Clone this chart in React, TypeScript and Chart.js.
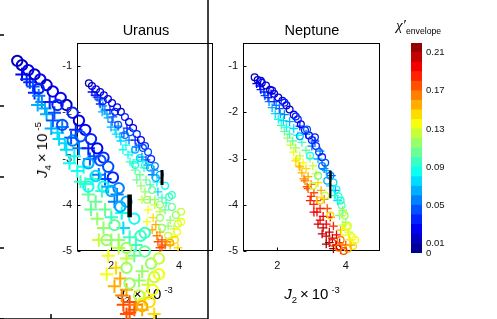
import React, { useEffect, useRef } from "react";
import { Chart, registerables } from "chart.js";
Chart.register(...registerables);

// ---- data: [J2 (1e-3), J4 (1e-5), chi'envelope] ----
const uranusCircles: number[][] = [
  [1.35, -1.37, 0.01], [1.44, -1.43, 0.01], [1.56, -1.5, 0.02], [1.68, -1.56, 0.01],
  [1.79, -1.63, 0.02], [1.91, -1.71, 0.01], [2.03, -1.8, 0.02], [2.18, -1.89, 0.02],
  [2.29, -1.99, 0.01], [2.41, -2.1, 0.03], [2.53, -2.21, 0.02], [2.65, -2.34, 0.02],
  [2.76, -2.47, 0.03], [2.88, -2.6, 0.02], [3.0, -2.73, 0.03], [3.09, -2.86, 0.04],
  [3.18, -3.01, 0.03], [3.29, -3.16, 0.05], [3.44, -3.35, 0.06], [3.59, -3.59, 0.08],
  [3.71, -3.83, 0.09], [3.79, -4.05, 0.1], [3.91, -4.22, 0.11], [3.97, -4.41, 0.12],
  [3.94, -4.59, 0.13], [3.88, -4.76, 0.14], [3.68, -4.67, 0.12], [3.5, -4.5, 0.11],
  [2.41, -2.49, 0.05], [2.71, -2.81, 0.06], [3.0, -3.14, 0.08], [3.21, -3.68, 0.1],
  [3.44, -4.0, 0.11], [2.21, -2.27, 0.04], [2.85, -2.99, 0.07],
  [1.76, -1.76, 0.03], [2.12, -1.99, 0.03], [2.56, -2.43, 0.04], [2.94, -2.77, 0.04],
  [3.15, -3.2, 0.06], [3.32, -3.42, 0.06], [3.79, -3.79, 0.09], [4.06, -4.15, 0.12],
  [4.06, -4.37, 0.13], [3.74, -4.82, 0.15], [3.44, -4.28, 0.11], [3.06, -3.89, 0.11],
  [2.71, -3.14, 0.08],
];
const uranusPluses: number[][] = [
  [1.44, -1.56, 0.02], [1.59, -1.67, 0.03], [1.68, -1.82, 0.03], [1.82, -1.95, 0.05],
  [1.74, -1.99, 0.06], [1.91, -2.12, 0.06], [2.03, -2.21, 0.04], [2.12, -2.38, 0.07],
  [2.21, -2.3, 0.05], [2.26, -2.53, 0.07], [2.38, -2.45, 0.04], [2.44, -2.71, 0.08],
  [2.53, -2.6, 0.05], [2.62, -2.86, 0.08], [2.74, -2.75, 0.04], [2.79, -3.03, 0.09],
  [2.91, -2.97, 0.05], [2.97, -3.2, 0.09], [3.09, -3.14, 0.06], [2.85, -3.35, 0.1],
  [3.03, -3.46, 0.1], [3.21, -3.35, 0.05], [3.0, -3.72, 0.11], [3.15, -3.89, 0.11],
  [3.38, -3.72, 0.07], [3.09, -4.11, 0.13], [3.24, -4.28, 0.14], [3.32, -4.43, 0.15],
  [3.44, -4.59, 0.15], [3.5, -4.76, 0.17], [3.59, -4.87, 0.17], [3.74, -4.87, 0.15],
  [3.59, -4.11, 0.1], [3.74, -4.33, 0.11], [3.79, -4.71, 0.13], [3.44, -4.15, 0.12],
  [2.71, -3.25, 0.1], [2.56, -3.07, 0.09], [3.29, -4.0, 0.12], [3.38, -4.8, 0.17],
  [3.5, -4.91, 0.17], [3.97, -4.93, 0.14],
  [1.53, -1.63, 0.03], [1.65, -1.73, 0.04], [1.76, -1.86, 0.05], [1.88, -2.04, 0.06],
  [1.97, -1.95, 0.03], [2.06, -2.1, 0.04], [2.0, -2.32, 0.06], [2.15, -2.47, 0.07],
  [2.29, -2.62, 0.07], [2.35, -2.81, 0.08], [2.5, -2.92, 0.08], [2.65, -3.1, 0.09],
  [2.76, -3.46, 0.1], [2.88, -3.59, 0.11], [2.91, -3.89, 0.12], [3.06, -4.37, 0.13],
  [3.21, -4.54, 0.15], [3.35, -4.67, 0.16], [3.62, -4.8, 0.16], [3.44, -4.93, 0.17],
  [3.29, -3.89, 0.11], [3.5, -3.85, 0.09], [3.62, -3.96, 0.09], [3.68, -4.46, 0.11],
  [3.85, -4.52, 0.12], [3.35, -3.51, 0.08], [3.15, -3.57, 0.09], [2.82, -2.71, 0.04],
  [2.71, -2.6, 0.03], [2.47, -2.34, 0.03], [3.03, -3.03, 0.04], [3.26, -3.25, 0.05],
];
const neptuneCircles: number[][] = [
  [1.34, -1.24, 0.01], [1.43, -1.3, 0.01], [1.55, -1.36, 0.02], [1.67, -1.42, 0.01],
  [1.79, -1.51, 0.01], [1.91, -1.6, 0.02], [2.03, -1.68, 0.01], [2.15, -1.75, 0.02],
  [2.27, -1.85, 0.02], [2.36, -1.94, 0.01], [2.48, -2.05, 0.02], [2.6, -2.15, 0.03],
  [2.69, -2.26, 0.02], [2.81, -2.39, 0.03], [2.93, -2.5, 0.02], [3.01, -2.6, 0.03],
  [3.13, -2.73, 0.03], [3.22, -2.86, 0.04], [3.31, -2.97, 0.03], [3.4, -3.09, 0.04],
  [3.55, -3.37, 0.05], [3.64, -3.52, 0.07], [3.73, -3.67, 0.08], [3.79, -3.82, 0.09],
  [3.88, -4.01, 0.1], [3.97, -4.23, 0.11], [4.06, -4.46, 0.12], [4.18, -4.7, 0.13],
  [4.21, -4.89, 0.14], [4.06, -4.95, 0.15], [3.94, -5.0, 0.17], [3.79, -4.93, 0.16],
  [3.61, -4.82, 0.18], [2.66, -2.52, 0.06], [2.96, -2.94, 0.08], [3.19, -3.37, 0.1],
  [3.4, -3.8, 0.12], [3.55, -4.23, 0.14], [3.91, -4.18, 0.12], [4.03, -4.48, 0.13],
  [1.52, -1.32, 0.02], [1.85, -1.53, 0.02], [2.21, -1.79, 0.03], [2.54, -2.09, 0.03],
  [2.87, -2.37, 0.04], [3.1, -2.54, 0.03], [3.31, -3.16, 0.05], [3.46, -3.48, 0.06],
  [3.85, -3.91, 0.08], [3.97, -4.59, 0.13], [4.27, -4.76, 0.13], [3.85, -4.76, 0.16],
  [3.25, -3.91, 0.14], [3.04, -3.59, 0.12],
];
const neptunePluses: number[][] = [
  [1.4, -1.38, 0.02], [1.52, -1.51, 0.03], [1.64, -1.64, 0.04], [1.76, -1.77, 0.05],
  [1.85, -1.9, 0.06], [1.94, -2.03, 0.07], [2.03, -2.15, 0.08], [2.12, -2.28, 0.09],
  [2.21, -2.41, 0.1], [2.3, -2.56, 0.11], [2.39, -2.71, 0.12], [2.48, -2.86, 0.13],
  [2.57, -3.01, 0.13], [2.63, -3.16, 0.14], [2.72, -3.31, 0.15], [2.81, -3.48, 0.16],
  [2.9, -3.65, 0.17], [2.99, -3.82, 0.18], [3.07, -3.99, 0.18], [3.16, -4.16, 0.19],
  [3.25, -4.33, 0.19], [3.34, -4.5, 0.2], [3.43, -4.68, 0.2], [3.52, -4.82, 0.21],
  [3.64, -4.95, 0.21], [1.91, -1.77, 0.03], [2.06, -1.92, 0.04], [2.21, -2.05, 0.05],
  [2.36, -2.2, 0.06], [2.48, -2.35, 0.07], [2.6, -2.5, 0.08], [2.72, -2.65, 0.09],
  [2.84, -2.82, 0.1], [2.96, -2.99, 0.11], [3.04, -3.16, 0.12], [3.13, -3.33, 0.13],
  [3.19, -3.52, 0.14], [3.28, -3.69, 0.15], [3.37, -3.88, 0.16], [3.46, -4.08, 0.17],
  [3.55, -4.27, 0.18], [3.64, -4.46, 0.18], [3.73, -4.65, 0.19], [3.82, -4.82, 0.19],
  [2.66, -2.3, 0.03], [2.84, -2.47, 0.04], [3.01, -2.73, 0.05], [3.19, -3.01, 0.06],
  [3.37, -3.22, 0.05], [3.58, -3.37, 0.04], [3.7, -3.69, 0.06], [3.76, -3.91, 0.07],
  [3.91, -4.12, 0.09], [4.0, -4.38, 0.11], [4.09, -4.59, 0.12], [3.85, -4.55, 0.15],
  [1.49, -1.43, 0.02], [1.61, -1.56, 0.03], [1.73, -1.68, 0.03], [1.82, -1.6, 0.02],
  [1.97, -1.85, 0.05], [2.09, -2.03, 0.06], [2.18, -2.18, 0.07], [2.27, -2.32, 0.08],
  [2.36, -2.47, 0.09], [2.45, -2.62, 0.1], [2.54, -2.77, 0.11], [2.66, -2.94, 0.12],
  [2.75, -3.09, 0.13], [2.84, -3.22, 0.14], [2.9, -3.39, 0.15], [2.99, -3.56, 0.16],
  [3.07, -3.74, 0.17], [3.16, -3.91, 0.17], [3.25, -4.08, 0.18], [3.34, -4.25, 0.19],
  [3.43, -4.42, 0.19], [3.52, -4.59, 0.2], [3.61, -4.72, 0.2], [3.73, -4.87, 0.2],
  [3.85, -4.97, 0.19], [4.0, -4.87, 0.17], [4.12, -4.76, 0.14], [2.66, -3.18, 0.15],
  [2.54, -3.05, 0.14], [2.78, -3.44, 0.16], [2.87, -3.61, 0.17], [2.96, -3.91, 0.18],
  [3.07, -4.16, 0.19], [3.19, -4.42, 0.2], [3.31, -4.63, 0.2], [3.43, -4.85, 0.21],
  [3.1, -2.62, 0.04], [3.25, -2.84, 0.05], [3.43, -3.26, 0.06], [3.55, -3.59, 0.07],
  [3.67, -3.8, 0.08], [3.82, -4.23, 0.1], [3.91, -4.44, 0.12], [4.15, -4.87, 0.15],
];
// observed value bars: [J2, J4 low end, J4 high end]
const uranusBar = [3.5, -3.25, -3.57];
const neptuneBar = [3.55, -3.26, -3.86];

const j2Range = [1, 5];
const j4Range = [-5, -0.5];
const j2Ticks = [2, 4];
const j4Ticks = [-5, -4, -3, -2, -1];
const chiRange = [0, 0.22];
const chiTicks = [0, 0.01, 0.05, 0.09, 0.13, 0.17, 0.21];
const chiBandLows = [0, 0.01, 0.02, 0.03, 0.04, 0.05, 0.06, 0.07, 0.08, 0.09, 0.1,
  0.11, 0.12, 0.13, 0.14, 0.15, 0.16, 0.17, 0.18, 0.19, 0.2, 0.21];

const SANS = "'Liberation Sans', Arial, Helvetica, sans-serif";

function jet(t: number) {
  const c = (v: number) => Math.max(0, Math.min(1, v));
  const r = c(1.5 - Math.abs(4 * t - 3));
  const g = c(1.5 - Math.abs(4 * t - 2));
  const b = c(1.5 - Math.abs(4 * t - 1));
  return `rgb(${Math.round(r * 255)},${Math.round(g * 255)},${Math.round(b * 255)})`;
}
const NB = chiBandLows.length;
function chiColor(chi: number) {
  const i = Math.min(NB - 1, Math.max(0, Math.floor((chi - chiRange[0]) / (chiRange[1] - chiRange[0]) * NB + 1e-6)));
  return jet((i + 0.5) / NB);
}

const framePlugin = {
  id: "frame",
  beforeDatasetsDraw(chart: any, _a: any, opts: any) {
    const { ctx, chartArea: a } = chart;
    const lw = opts.lineWidth ?? 1;
    const off = lw % 2 === 1 ? 0.5 : 0;
    const L = Math.round(a.left) + off, R = Math.round(a.right) - off;
    const T = Math.round(a.top) + off, B = Math.round(a.bottom) - off;
    ctx.save();
    ctx.strokeStyle = opts.color ?? "#000";
    ctx.lineWidth = lw;
    ctx.strokeRect(L, T, R - L, B - T);
    const len = opts.tickLen ?? 0;
    if (len > 0 && chart.scales.x && chart.scales.y) {
      ctx.beginPath();
      const xs = chart.scales.x, ys = chart.scales.y;
      xs.ticks.forEach((t: any) => {
        const px = Math.round(xs.getPixelForValue(t.value)) + off;
        ctx.moveTo(px, B); ctx.lineTo(px, B - len);
      });
      ys.ticks.forEach((t: any) => {
        const py = Math.round(ys.getPixelForValue(t.value)) + off;
        ctx.moveTo(L, py); ctx.lineTo(L + len, py);
      });
      ctx.stroke();
    }
    ctx.restore();
  },
};

const toPts = (list: number[][]) => list.map(([x, y, c]) => ({ x, y, c }));
const colorOf = (ctx: any) => chiColor(ctx.raw && ctx.raw.c !== undefined ? ctx.raw.c : 0);

function scatterConfig(p: any): any {
  return {
    type: "scatter",
    data: {
      datasets: [
        {
          type: "line",
          data: [{ x: p.bar[0], y: p.bar[1] }, { x: p.bar[0], y: p.bar[2] }],
          borderColor: "#000", borderWidth: p.barW, pointRadius: 0, showLine: true,
          borderCapStyle: "butt", clip: false,
        },
        {
          data: toPts(p.circles), pointStyle: "circle", pointRadius: p.circleR,
          pointBorderWidth: p.bw, pointBorderColor: colorOf,
          pointBackgroundColor: "rgba(0,0,0,0)", clip: false,
        },
        {
          data: toPts(p.pluses), pointStyle: "cross", pointRadius: p.crossR,
          pointBorderWidth: p.bw, pointBorderColor: colorOf,
          pointBackgroundColor: "rgba(0,0,0,0)", clip: false,
        },
      ],
    },
    options: {
      animation: false, responsive: false, events: [],
      layout: { padding: p.padding },
      plugins: {
        legend: { display: false }, tooltip: { enabled: false }, title: { display: false },
        frame: { lineWidth: p.frameW, tickLen: p.tickLen, color: "#000" },
      },
      scales: {
        x: {
          type: "linear", min: j2Range[0], max: j2Range[1],
          afterBuildTicks: (s: any) => { s.ticks = j2Ticks.map((v) => ({ value: v })); },
          afterFit: (s: any) => { s.height = p.xHeight; },
          grid: { display: false, drawTicks: false }, border: { display: false },
          ticks: { font: { family: SANS, size: p.font }, color: "#111", padding: p.xPad, maxRotation: 0, callback: (v: any) => String(v) },
        },
        y: {
          type: "linear", min: j4Range[0], max: j4Range[1],
          afterBuildTicks: (s: any) => { s.ticks = j4Ticks.map((v) => ({ value: v })); },
          afterFit: (s: any) => { s.width = p.yWidth; },
          grid: { display: false, drawTicks: false }, border: { display: false },
          ticks: { font: { family: SANS, size: p.font }, color: "#111", padding: p.yPad, callback: (v: any) => String(v) },
        },
      },
    },
    plugins: [framePlugin],
  };
}

function colorbarConfig(): any {
  return {
    type: "bar",
    data: {
      labels: ["chi"],
      datasets: chiBandLows.map((lo, i) => ({
        data: [[lo, i + 1 < NB ? chiBandLows[i + 1] : chiRange[1]]],
        backgroundColor: jet((i + 0.5) / NB),
        borderWidth: 0, barPercentage: 1, categoryPercentage: 1, grouped: false,
      })),
    },
    options: {
      animation: false, responsive: false, events: [],
      layout: { padding: { left: 16, top: 43, right: 0, bottom: 66 } },
      plugins: {
        legend: { display: false }, tooltip: { enabled: false },
        frame: { lineWidth: 1, tickLen: 0, color: "#333" },
      },
      scales: {
        x: { display: false },
        y: {
          position: "right", min: chiRange[0], max: chiRange[1],
          afterBuildTicks: (s: any) => { s.ticks = chiTicks.map((v) => ({ value: v })); },
          afterFit: (s: any) => { s.width = 75; },
          grid: { display: false, drawTicks: false }, border: { display: false },
          ticks: { font: { family: SANS, size: 9.5 }, color: "#111", padding: 4, callback: (v: any) => String(v) },
        },
      },
    },
    plugins: [framePlugin],
  };
}

function JLabel({ sub, exp }: { sub: string; exp: string }) {
  return (
    <span style={{ fontFamily: SANS, fontSize: 15, lineHeight: "15px", color: "#000", whiteSpace: "nowrap" }}>
      <i>J</i>
      <span style={{ fontSize: 9.5, position: "relative", top: 4 }}>{sub}</span>
      <span>{"\u2009\u00d7\u200910"}</span>
      <span style={{ fontSize: 9.5, position: "relative", top: -6, marginLeft: 3 }}>{exp}</span>
    </span>
  );
}

export default function App() {
  const uRef = useRef<HTMLCanvasElement>(null);
  const bRef = useRef<HTMLCanvasElement>(null);
  const nRef = useRef<HTMLCanvasElement>(null);
  const cRef = useRef<HTMLCanvasElement>(null);

  useEffect(() => {
    const charts: Chart[] = [];
    const small = {
      circleR: 3.4, crossR: 4.3, bw: 1.3, barW: 3, frameW: 1, tickLen: 3, font: 11,
      xHeight: 30, xPad: 8, yPad: 5,
    };
    charts.push(new Chart(uRef.current!, scatterConfig({
      ...small, circles: uranusCircles, pluses: uranusPluses, bar: uranusBar,
      yWidth: 77, padding: { left: 0, top: 43, right: 17, bottom: 38 },
    })));
    charts.push(new Chart(bRef.current!, scatterConfig({
      circleR: 5.2, crossR: 6.6, bw: 2, barW: 4.5, frameW: 1.5, tickLen: 5, font: 17,
      xHeight: 29, xPad: 10, yPad: 8,
      circles: uranusCircles, pluses: uranusPluses, bar: uranusBar,
      yWidth: 60, padding: { left: 0, top: 39, right: 20, bottom: 0 },
    })));
    charts.push(new Chart(nRef.current!, scatterConfig({
      ...small, circles: neptuneCircles, pluses: neptunePluses, bar: neptuneBar, barW: 2.2,
      yWidth: 28, padding: { left: 0, top: 43, right: 15, bottom: 38 },
    })));
    charts.push(new Chart(cRef.current!, colorbarConfig()));
    return () => charts.forEach((c) => c.destroy());
  }, []);

  const abs: React.CSSProperties = { position: "absolute" };
  const title: React.CSSProperties = { ...abs, top: 23, transform: "translateX(-50%)", fontFamily: SANS, fontSize: 14.5, lineHeight: "14.5px", whiteSpace: "nowrap", color: "#000" };
  return (
    <div style={{ position: "absolute", left: 0, top: 0, width: 497, height: 319, overflow: "hidden", background: "#fff" }}>
      <canvas ref={uRef} width={230} height={319} style={{ ...abs, left: 0, top: 0, width: 230, height: 319 }} />
      <div style={{ ...title, left: 146 }}>Uranus</div>
      <div style={{ ...abs, left: 145, top: 285, transform: "translateX(-50%)" }}><JLabel sub="2" exp="-3" /></div>
      <canvas ref={bRef} width={289} height={388} style={{ ...abs, left: -61, top: -40, width: 289, height: 388 }} />
      <div style={{ ...abs, left: 42, top: 150, transform: "translate(-50%,-50%) rotate(-90deg)" }}><JLabel sub="4" exp="-5" /></div>
      <canvas ref={nRef} width={180} height={319} style={{ ...abs, left: 215, top: 0, width: 180, height: 319 }} />
      <div style={{ ...title, left: 312 }}>Neptune</div>
      <div style={{ ...abs, left: 312, top: 285, transform: "translateX(-50%)" }}><JLabel sub="2" exp="-3" /></div>
      <canvas ref={cRef} width={102} height={319} style={{ ...abs, left: 395, top: 0, width: 102, height: 319 }} />
      <div style={{ ...abs, left: 396, top: 18, whiteSpace: "nowrap", lineHeight: "14px", color: "#000" }}>
        <span style={{ fontFamily: "'Liberation Serif', 'DejaVu Serif', serif", fontStyle: "italic", fontSize: 15 }}>{"\u03c7\u2032"}</span>
        <span style={{ fontFamily: SANS, fontSize: 8.7, position: "relative", top: 4 }}>envelope</span>
      </div>
    </div>
  );
}
